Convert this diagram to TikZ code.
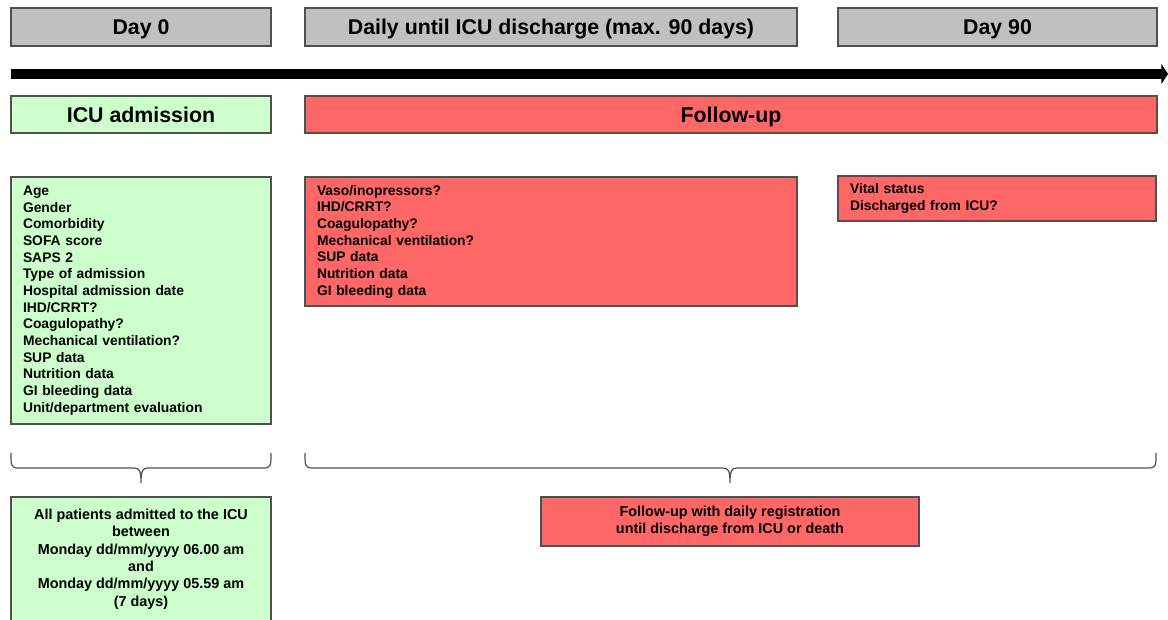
\documentclass[tikz,border=0pt]{standalone}
\usepackage{fontspec}
\setmainfont{Liberation Sans}
\usetikzlibrary{arrows.meta}

\definecolor{hdrgray}{RGB}{192,192,192}
\definecolor{admgreen}{RGB}{204,255,204}
\definecolor{fupred}{RGB}{255,102,102}
\definecolor{edgegray}{RGB}{80,80,80}

\tikzset{
  phase/.style={draw=edgegray, line width=0.9pt, fill=hdrgray, inner sep=0pt, minimum height=28.5pt,
    text depth=0pt, font=\fontsize{16}{19}\selectfont\bfseries},
  admbox/.style={draw=edgegray, line width=0.9pt, fill=admgreen, inner sep=0pt},
  fupbox/.style={draw=edgegray, line width=0.9pt, fill=fupred, inner sep=0pt},
  title/.style={minimum height=27.75pt, text depth=0pt, font=\fontsize{16}{19}\selectfont\bfseries},
  itemlist/.style={align=left, font=\fontsize{10.4}{12.5}\selectfont\bfseries},
  note/.style={align=center, font=\fontsize{10.8}{13}\selectfont\bfseries},
  bracket/.style={draw=edgegray, line width=0.9pt}
}

\begin{document}
\begin{tikzpicture}[x=0.75pt,y=0.75pt,yscale=-1,xscale=1]
\useasboundingbox (0,0) rectangle (1168,620);

% phase headers
\node[phase, minimum width=195pt] (day0) at (141,27) {Day 0};
\node[phase, minimum width=369pt] (daily) at (551,27) {Daily until ICU discharge (max. 90 days)};
\node[phase, minimum width=239.25pt] (day90) at (997.5,27) {Day 90};

% time axis
\coordinate (tstart) at (11,74);
\coordinate (tend) at (1168,74);
\draw[line width=7.5pt, -{Triangle[length=5pt,width=15pt]}] (tstart) -- (tend);

% section titles
\node[admbox, title, minimum width=195pt] (icu) at (141,114.5) {ICU admission};
\node[fupbox, title, minimum width=639pt] (fup) at (731,114.5) {Follow-up};

% registered variables
\node[admbox, itemlist, minimum width=195pt, minimum height=185.25pt, text width=177pt] (base) at (141,300.5)
  {Age\\Gender\\Comorbidity\\SOFA score\\SAPS 2\\Type of admission\\Hospital admission date\\IHD/CRRT?\\Coagulopathy?\\Mechanical ventilation?\\SUP data\\Nutrition data\\GI bleeding data\\Unit/department evaluation};
\node[fupbox, itemlist, minimum width=369pt, minimum height=96.75pt, text width=351pt] (daydata) at (551,241.5)
  {Vaso/inopressors?\\IHD/CRRT?\\Coagulopathy?\\Mechanical ventilation?\\SUP data\\Nutrition data\\GI bleeding data};
\node[fupbox, itemlist, minimum width=238.5pt, minimum height=33.75pt, text width=220.5pt] (endpt) at (997,198.5)
  {Vital status\\Discharged from ICU?};

% brackets
\draw[bracket] (11,453) .. controls (11,466) and (11,468) .. (19,468) -- (134,468)
  .. controls (139,468) and (141,470) .. (141,483) .. controls (141,470) and (143,468) .. (148,468)
  -- (263,468) .. controls (271,468) and (271,466) .. (271,453);
\draw[bracket] (305,453) .. controls (305,466) and (305,468) .. (313,468) -- (723,468)
  .. controls (728,468) and (730,470) .. (730,483) .. controls (730,470) and (732,468) .. (737,468)
  -- (1148,468) .. controls (1156,468) and (1156,466) .. (1156,453);

% inclusion and follow-up
\node[admbox, note, minimum width=195pt, minimum height=93pt] (incl) at (141,559)
  {All patients admitted to the ICU\\between\\Monday dd/mm/yyyy 06.00 am\\and\\Monday dd/mm/yyyy 05.59 am\\(7 days)};
\node[fupbox, note, minimum width=283.5pt, minimum height=36.75pt] (daily reg) at (730,521.5)
  {Follow-up with daily registration\\until discharge from ICU or death};

\end{tikzpicture}
\end{document}
